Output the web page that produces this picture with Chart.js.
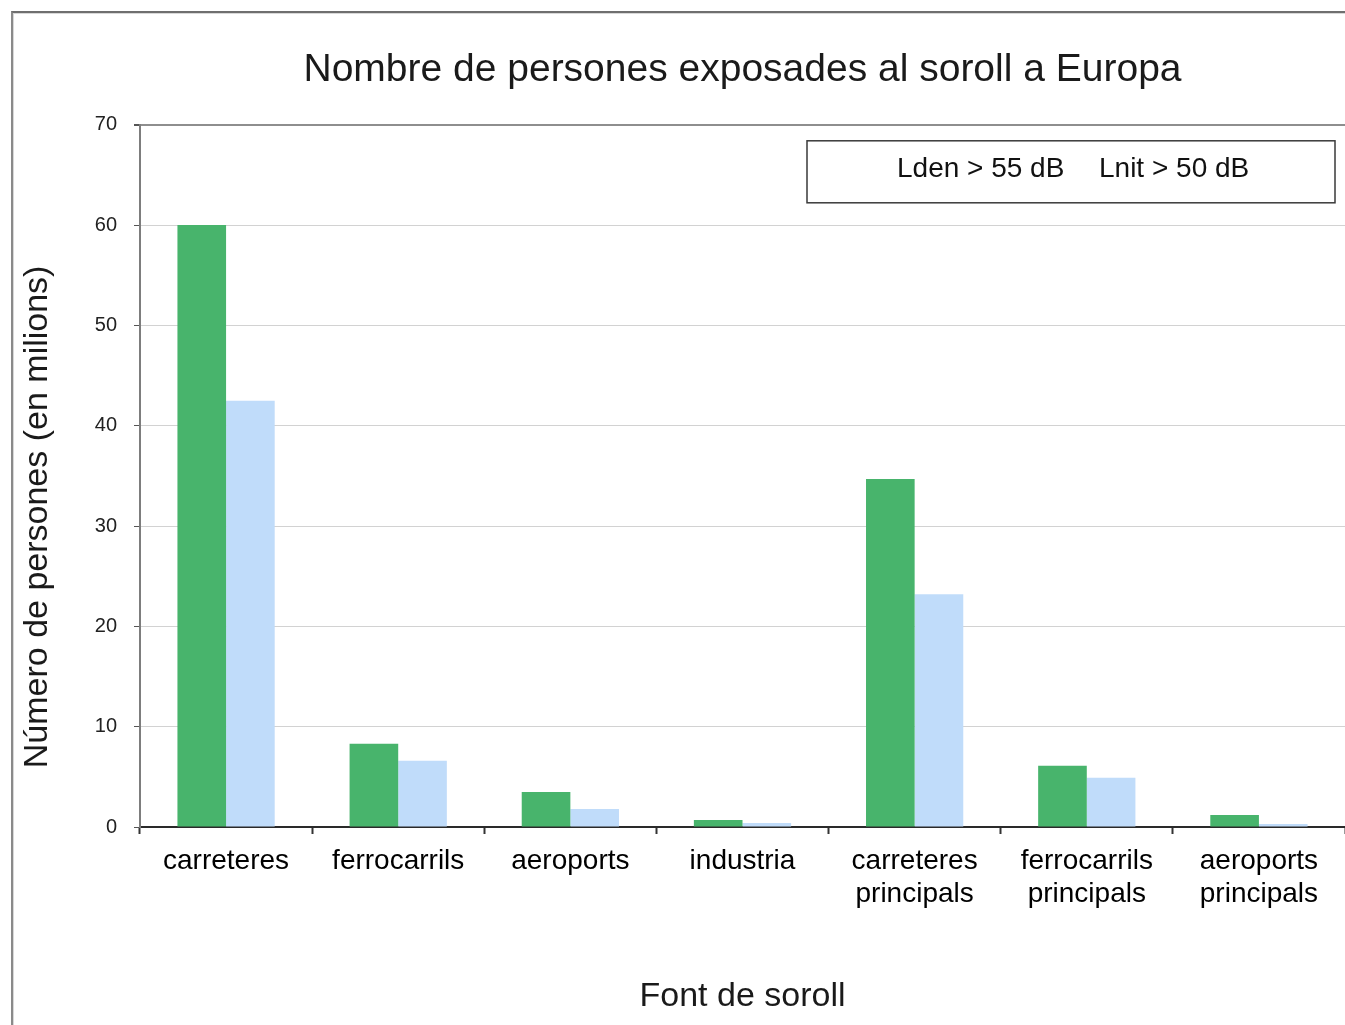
<!DOCTYPE html>
<html>
<head>
<meta charset="utf-8">
<title>Nombre de persones exposades al soroll a Europa</title>
<script src="https://cdn.jsdelivr.net/npm/chart.js@4/dist/chart.umd.min.js"></script>
<style>
  html, body { margin: 0; padding: 0; background: #ffffff; }
  #wrap { position: relative; width: 1345px; height: 1025px; overflow: hidden; }
  #frame {
    position: absolute; left: 11px; top: 11px; right: -4px; bottom: -4px;
    border-top: 2px solid #6f6f6f; border-left: 2px solid #8a8a8a;
    box-shadow: inset 1px 1px 0 #d8d8d8;
  }
  canvas { position: absolute; left: 0; top: 0; }
</style>
</head>
<body>
<div id="wrap">
  <div id="frame"></div>
  <canvas id="chart" width="1345" height="1025"></canvas>
</div>
<script>
// Noise sources (two-line labels are split into arrays)
const categories = [
  ['carreteres'],
  ['ferrocarrils'],
  ['aeroports'],
  ['industria'],
  ['carreteres', 'principals'],
  ['ferrocarrils', 'principals'],
  ['aeroports', 'principals']
];

// People exposed, in millions
const ldenValues = [60, 8.3, 3.5, 0.7, 34.7, 6.1, 1.2];
const lnitValues = [42.5, 6.6, 1.8, 0.4, 23.2, 4.9, 0.3];

const seriesNames = ['Lden > 55 dB', 'Lnit > 50 dB'];
const yTicks = [0, 10, 20, 30, 40, 50, 60, 70];

const chartTitle = 'Nombre de persones exposades al soroll a Europa';
const xTitle = 'Font de soroll';
const yTitle = 'Número de persones (en milions)';

const FONT = '"Liberation Sans", Arial, Helvetica, sans-serif';

// Vertical axis title, drawn beside the value axis
const yTitlePlugin = {
  id: 'yTitle',
  afterDraw(chart) {
    const { ctx, chartArea } = chart;
    ctx.save();
    ctx.translate(chartArea.left - 102, (chartArea.top + chartArea.bottom) / 2 + 41);
    ctx.rotate(-Math.PI / 2);
    ctx.font = '34px ' + FONT;
    ctx.fillStyle = '#1a1a1a';
    ctx.textAlign = 'center';
    ctx.textBaseline = 'middle';
    ctx.fillText(yTitle, 0, 0);
    ctx.restore();
  }
};

// Boxed series legend in the upper right of the plot
const legendBoxPlugin = {
  id: 'legendBox',
  afterDraw(chart) {
    const { ctx, chartArea } = chart;
    const right = chartArea.right - 10;
    const left = right - 528;
    const top = chartArea.top + 16;
    const h = 62;
    ctx.save();
    ctx.fillStyle = '#ffffff';
    ctx.fillRect(left, top, right - left, h);
    ctx.strokeStyle = '#3a3a3a';
    ctx.lineWidth = 1.5;
    ctx.strokeRect(left, top, right - left, h);
    ctx.font = '28px ' + FONT;
    ctx.fillStyle = '#111111';
    ctx.textAlign = 'left';
    ctx.textBaseline = 'middle';
    const names = chart.data.datasets.map(d => d.label);
    ctx.fillText(names[0], left + 90, top + 28);
    ctx.fillText(names[1], left + 292, top + 28);
    ctx.restore();
  }
};

new Chart(document.getElementById('chart'), {
  type: 'bar',
  data: {
    labels: categories,
    datasets: [
      {
        label: seriesNames[0],
        data: ldenValues,
        backgroundColor: '#48b46c',
        borderWidth: 0,
        barPercentage: 1,
        categoryPercentage: 0.565
      },
      {
        label: seriesNames[1],
        data: lnitValues,
        backgroundColor: '#c0dcfa',
        borderWidth: 0,
        barPercentage: 1,
        categoryPercentage: 0.565
      }
    ]
  },
  options: {
    responsive: false,
    animation: false,
    devicePixelRatio: 1,
    layout: { padding: { left: 11, right: 0, top: 0, bottom: 0 } },
    plugins: {
      legend: { display: false },
      tooltip: { enabled: false },
      title: {
        display: true,
        text: chartTitle,
        fullSize: false,
        color: '#1a1a1a',
        font: { family: FONT, size: 39, weight: 'normal' },
        padding: { top: 47, bottom: 31 }
      }
    },
    scales: {
      x: {
        grid: {
          display: true,
          drawOnChartArea: false,
          drawTicks: true,
          tickLength: 7,
          tickColor: '#333333',
          tickWidth: 2,
          offset: true
        },
        border: { display: true, color: '#2a2a2a', width: 2 },
        ticks: {
          color: '#000000',
          font: { family: FONT, size: 28, lineHeight: 1.18 },
          padding: 11,
          maxRotation: 0,
          autoSkip: false
        },
        title: {
          display: true,
          text: xTitle,
          color: '#1a1a1a',
          font: { family: FONT, size: 34, weight: 'normal' },
          padding: { top: 0, bottom: 8 }
        },
        afterFit(scale) { scale.height = 198; }
      },
      y: {
        min: 0,
        max: 70,
        afterBuildTicks(scale) { scale.ticks = yTicks.map(v => ({ value: v })); },
        grid: {
          color: c => (c.tick && c.tick.value === 70) ? '#8e8e8e' : '#d2d2d2',
          lineWidth: c => (c.tick && c.tick.value === 70) ? 2 : 1,
          tickLength: 6,
          tickColor: '#555555',
          drawTicks: true
        },
        border: { display: true, color: '#7d7d7d', width: 2 },
        ticks: {
          color: '#222222',
          font: { family: FONT, size: 20 },
          padding: 17
        },
        afterFit(scale) { scale.width = 129; }
      }
    }
  },
  plugins: [yTitlePlugin, legendBoxPlugin]
});
</script>
</body>
</html>
